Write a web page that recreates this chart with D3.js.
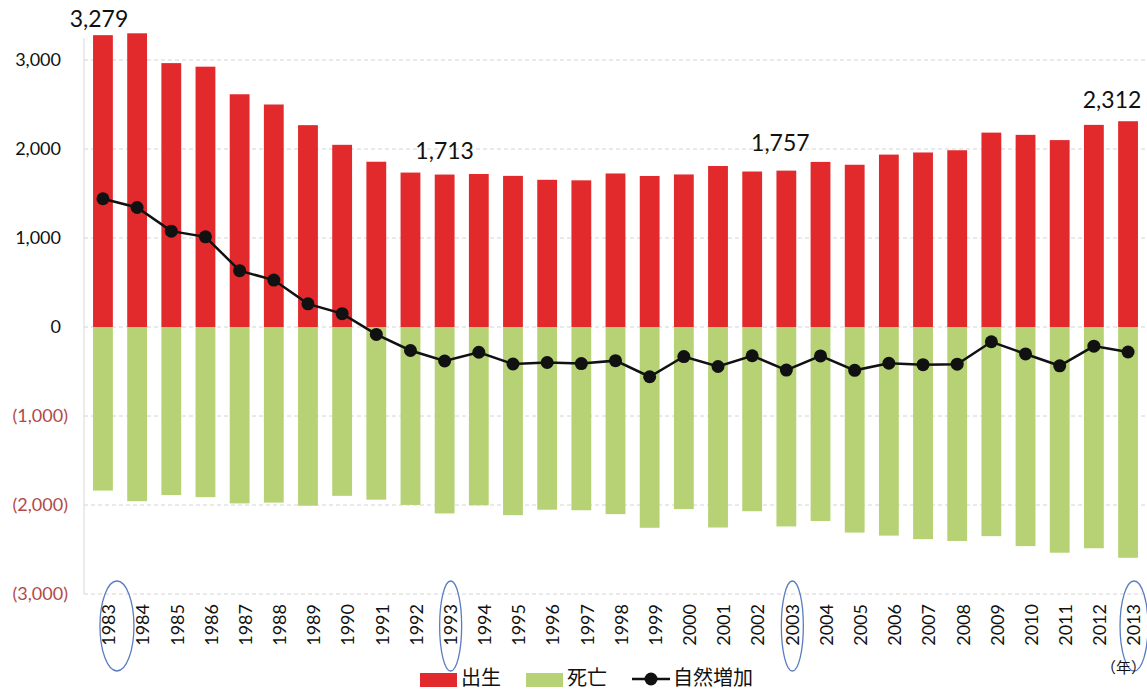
<!DOCTYPE html>
<meta charset="utf-8">
<style>
body { margin: 0; background: #fff; }
svg { display: block; font-family: Lato, "Noto Sans", sans-serif; }
.grid line { stroke: #d4d4d4; stroke-dasharray: 4 3; }
.ylab { font-size: 18px; }
.xlab { font-size: 18px; fill: #111; }
.vlab { font-size: 23px; fill: #111; }
.legend text { font-family: "Noto Sans CJK JP", sans-serif; font-size: 20px; fill: #111; }
</style>
<svg width="1147" height="691"></svg>
<script src="https://cdn.jsdelivr.net/npm/d3@7"></script>
<script>

var years = d3.range(1983, 2014);

// 出生
var births = [3279, 3300, 2965, 2925, 2615, 2500, 2268, 2047, 1857, 1735,
              1713, 1719, 1698, 1654, 1648, 1725, 1697, 1714, 1809, 1747,
              1757, 1855, 1823, 1937, 1961, 1986, 2184, 2159, 2100, 2271, 2312];

// 死亡 (negative)
var deaths = [-1838, -1957, -1888, -1912, -1982, -1973, -2008, -1897, -1940, -1999,
              -2095, -2003, -2114, -2053, -2059, -2103, -2256, -2046, -2253, -2070,
              -2241, -2180, -2310, -2344, -2384, -2404, -2350, -2462, -2536, -2486, -2593];

// 自然増加
var natural = [1441, 1343, 1077, 1013, 633, 527, 260, 150, -83, -264,
               -382, -284, -416, -399, -411, -378, -559, -332, -444, -323,
               -484, -325, -487, -407, -423, -418, -166, -303, -436, -215, -281];

var yTicks = [3000, 2000, 1000, 0, -1000, -2000, -3000];
var labelled = [1983, 1993, 2003, 2013];

var svg = d3.select("svg");

var x = d3.scaleBand()
    .domain(years)
    .range([84.5, 1146.5])
    .paddingInner(0.42)
    .paddingOuter(0.25);

var y = d3.scaleLinear()
    .domain([-3000, 3000])
    .range([594, 60]);

var cx = function(d) { return x(d) + x.bandwidth() / 2; };
var fmt = d3.format(",");

// grid
svg.append("g")
    .attr("class", "grid")
  .selectAll("line")
  .data(yTicks)
  .enter().append("line")
    .attr("x1", 84)
    .attr("x2", 1147)
    .attr("y1", function(d) { return y(d); })
    .attr("y2", function(d) { return y(d); });

svg.append("line")
    .attr("x1", 84).attr("x2", 84)
    .attr("y1", 38).attr("y2", y(-3000))
    .attr("stroke", "#d8d8d8");

// y labels
svg.append("g")
  .selectAll("text")
  .data(yTicks)
  .enter().append("text")
    .attr("class", "ylab")
    .attr("x", function(d) { return d < 0 ? 68 : 61; })
    .attr("y", function(d) { return y(d); })
    .attr("dy", "0.35em")
    .attr("text-anchor", "end")
    .attr("fill", function(d) { return d < 0 ? "#b24a48" : "#111"; })
    .text(function(d) { return d < 0 ? "(" + fmt(-d) + ")" : fmt(d); });

// bars
svg.append("g")
  .selectAll("rect")
  .data(years)
  .enter().append("rect")
    .attr("x", function(d) { return x(d); })
    .attr("width", x.bandwidth())
    .attr("y", function(d, i) { return y(births[i]); })
    .attr("height", function(d, i) { return y(0) - y(births[i]); })
    .attr("fill", "#e2292c");

svg.append("g")
  .selectAll("rect")
  .data(years)
  .enter().append("rect")
    .attr("x", function(d) { return x(d); })
    .attr("width", x.bandwidth())
    .attr("y", y(0))
    .attr("height", function(d, i) { return y(deaths[i]) - y(0); })
    .attr("fill", "#b6d274");

// natural increase line
var line = d3.line()
    .x(function(d, i) { return cx(years[i]); })
    .y(function(d) { return y(d); });

svg.append("path")
    .datum(natural)
    .attr("d", line)
    .attr("fill", "none")
    .attr("stroke", "#111")
    .attr("stroke-width", 2.5);

svg.append("g")
  .selectAll("circle")
  .data(natural)
  .enter().append("circle")
    .attr("cx", function(d, i) { return cx(years[i]); })
    .attr("cy", function(d) { return y(d); })
    .attr("r", 6.5)
    .attr("fill", "#111");

// value labels
var vOffset = {1983: -4, 1993: 0, 2003: -6, 2013: -16};
var vGap = {1983: 8, 1993: 16, 2003: 20, 2013: 13};
svg.append("g")
  .selectAll("text")
  .data(labelled)
  .enter().append("text")
    .attr("class", "vlab")
    .attr("x", function(d) { return cx(d) + vOffset[d]; })
    .attr("y", function(d) { return y(births[years.indexOf(d)]) - vGap[d]; })
    .attr("text-anchor", "middle")
    .text(function(d) { return fmt(births[years.indexOf(d)]); });

// x labels
svg.append("g")
  .selectAll("text")
  .data(years)
  .enter().append("text")
    .attr("class", "xlab")
    .attr("transform", function(d) { return "translate(" + (cx(d) + 6) + ",604) rotate(-90)"; })
    .attr("dy", "0.35em")
    .attr("text-anchor", "end")
    .text(function(d) { return d; });

// hand-drawn circles round the labelled years
var ringR = {1983: 17, 1993: 11, 2003: 11, 2013: 14};
svg.append("g")
  .selectAll("ellipse")
  .data(labelled)
  .enter().append("ellipse")
    .attr("cx", function(d) { return cx(d) + (d === 1983 ? 14 : 6); })
    .attr("cy", 626)
    .attr("rx", function(d) { return ringR[d]; })
    .attr("ry", 45)
    .attr("fill", "none")
    .attr("stroke", "#5a7cc0")
    .attr("stroke-width", 1.3);

svg.append("text")
    .attr("x", 1146)
    .attr("y", 673)
    .attr("text-anchor", "end")
    .attr("font-family", "Noto Sans CJK JP")
    .attr("font-size", 15)
    .attr("fill", "#111")
    .text("（年）");

// legend
var legend = svg.append("g").attr("class", "legend");
legend.append("rect").attr("x", 420).attr("y", 673).attr("width", 37).attr("height", 14).attr("fill", "#e2292c");
legend.append("text").attr("x", 461).attr("y", 685).text("出生");
legend.append("rect").attr("x", 526).attr("y", 673).attr("width", 37).attr("height", 14).attr("fill", "#b6d274");
legend.append("text").attr("x", 567).attr("y", 685).text("死亡");
legend.append("line").attr("x1", 632).attr("x2", 670).attr("y1", 679).attr("y2", 679)
    .attr("stroke", "#111").attr("stroke-width", 2.5);
legend.append("circle").attr("cx", 651).attr("cy", 679).attr("r", 6.5).attr("fill", "#111");
legend.append("text").attr("x", 673).attr("y", 685).text("自然増加");

</script>
